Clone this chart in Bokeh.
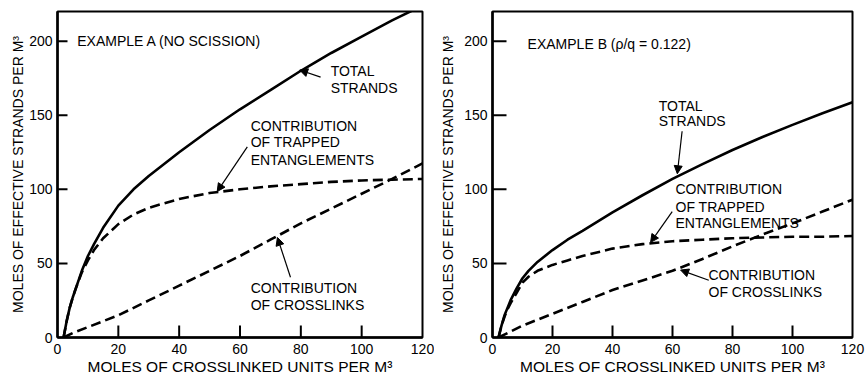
from bokeh.plotting import figure
from bokeh.models import FixedTicker, Arrow, NormalHead, Range1d, Label
from bokeh.layouts import row
from bokeh.embed import file_html
from bokeh.resources import INLINE

# ---------------- data ----------------
x_ticks = [0, 20, 40, 60, 80, 100, 120]
y_ticks = [0, 50, 100, 150, 200]
x_title = "MOLES OF CROSSLINKED UNITS PER M\u00b3"
y_title = "MOLES OF EFFECTIVE STRANDS PER M\u00b3"

# crosslinked units (x) for total / trapped curves
x_curve = [2, 3, 4, 5, 6, 8, 10, 12, 15, 20, 25, 30, 40, 50, 60, 70, 80, 90, 100, 110, 120]
# crosslinked units (x) for crosslink contribution
x_cross = [2, 5, 10, 20, 30, 40, 50, 60, 70, 80, 90, 100, 110, 120]

# Example A (no scission)
total_a = [0, 11, 20, 27, 33, 45, 55, 63, 74, 89, 100, 109, 125, 140, 154, 167, 180, 192, 203, 214, 224]
trapped_a = [0, 11, 20, 27, 33, 44, 52, 59, 67, 76.5, 83, 87.5, 93.5, 97.5, 100, 102, 103.5, 105, 106, 106.5, 107]
cross_a = [0, 3, 7, 15, 25, 35, 45, 55, 66, 77, 87, 97, 107, 117.5]

# Example B (rho/q = 0.122)
total_b = [0, 8, 15, 20, 25, 33, 40, 45, 51, 59, 66, 72, 84.5, 96, 107, 117, 126.5, 135.3, 143.5, 151.3, 158.7]
trapped_b = [0, 8, 14, 19, 23, 30, 37, 41, 45, 49, 52, 55, 60, 63, 65, 66, 67, 67.5, 68, 68, 68.5]
cross_b = [0, 3, 8, 16, 24, 32, 38.5, 45, 53, 61.5, 69.5, 77, 85, 93]

FONT = "Liberation Sans"
FIG_H = 382
BORDER_TOP = 11
BORDER_BOTTOM = 45
FRAME_H = FIG_H - BORDER_TOP - BORDER_BOTTOM
X_MAX = 120
Y_MAX = 220
TICK_COLOR = "black"


def make_fig(width, border_left, border_right, ytick_len, ylab_standoff):
    p = figure(width=width, height=FIG_H,
               x_range=Range1d(0, X_MAX), y_range=Range1d(0, Y_MAX),
               output_backend="svg", toolbar_location=None,
               min_border_left=border_left, min_border_right=border_right,
               min_border_top=BORDER_TOP, min_border_bottom=BORDER_BOTTOM)
    p.grid.visible = False
    p.background_fill_color = "white"
    p.border_fill_color = "white"
    p.outline_line_color = "black"
    p.outline_line_width = 2
    p.outline_line_alpha = 1

    p.xaxis.ticker = FixedTicker(ticks=x_ticks)
    p.yaxis.ticker = FixedTicker(ticks=y_ticks)
    for ax in (p.xaxis, p.yaxis):
        ax.axis_line_width = 2.5
        ax.axis_line_color = "black"
        ax.major_tick_in = 0
        ax.major_tick_out = 0
        ax.minor_tick_in = 0
        ax.minor_tick_out = 0
        ax.major_label_text_font = FONT
        ax.major_label_text_font_size = "14px"
        ax.major_label_text_color = "black"
        ax.axis_label_text_font = FONT
        ax.axis_label_text_font_style = "normal"
        ax.axis_label_text_color = "black"
    p.xaxis.major_label_standoff = 6
    p.yaxis.major_label_standoff = 5
    p.xaxis.axis_label = x_title
    p.yaxis.axis_label = y_title
    p.xaxis.axis_label_text_font_size = "15.5px"
    p.yaxis.axis_label_text_font_size = "14px"
    p.xaxis.axis_label_standoff = 1
    p.yaxis.axis_label_standoff = ylab_standoff

    # inward tick marks drawn from the tick lists (lengths converted from pixels)
    frame_w = width - border_left - border_right
    xt_len = 12 * Y_MAX / FRAME_H
    yt_len = ytick_len * X_MAX / frame_w
    inner_x = x_ticks[1:-1]
    inner_y = y_ticks[1:]
    p.segment(x0=inner_x, y0=[y_ticks[0]] * len(inner_x),
              x1=inner_x, y1=[y_ticks[0] + xt_len] * len(inner_x),
              line_color=TICK_COLOR, line_width=2)
    p.segment(x0=[x_ticks[0]] * len(inner_y), y0=inner_y,
              x1=[x_ticks[0] + yt_len] * len(inner_y), y1=inner_y,
              line_color=TICK_COLOR, line_width=2)
    return p


def add_curves(p, total, trapped, cross):
    p.line(x_curve, total, line_color="black", line_width=2.6)
    p.line(x_curve, trapped, line_color="black", line_width=2.6, line_dash="10 5")
    p.line(x_cross, cross, line_color="black", line_width=2.6, line_dash="10 5")


def add_text(p, x, ys, lines):
    for y, t in zip(ys, lines):
        p.add_layout(Label(x=x, y=y, text=t, text_font=FONT, text_font_size="14px",
                           text_color="black", text_baseline="middle", text_align="left"))


def add_arrow(p, xs, ys, xe, ye):
    p.add_layout(Arrow(end=NormalHead(size=8, fill_color="black", line_color="black", line_width=1),
                       x_start=xs, y_start=ys, x_end=xe, y_end=ye,
                       line_color="black", line_width=1.2))


# ---------------- panel A ----------------
pa = make_fig(434, 57, 12, 10, 0)
add_curves(pa, total_a, trapped_a, cross_a)
add_text(pa, 6.5, [200], ["EXAMPLE A (NO SCISSION)"])
add_text(pa, 89.8, [179.7, 168.2], ["TOTAL", "STRANDS"])
add_arrow(pa, 86.5, 175.7, 79.6, 180.5)
add_text(pa, 63.5, [142.6, 131.8, 119.6], ["CONTRIBUTION", "OF TRAPPED", "ENTANGLEMENTS"])
add_arrow(pa, 62.4, 128.6, 52.5, 98.5)
add_text(pa, 63.5, [33.1, 21.6], ["CONTRIBUTION", "OF CROSSLINKS"])
add_arrow(pa, 76.6, 40.7, 72.3, 67.5)

# ---------------- panel B ----------------
pb = make_fig(432, 58, 14, 14, 5)
add_curves(pb, total_b, trapped_b, cross_b)
add_text(pb, 11.7, [198], ["EXAMPLE B (\u03c1/q = 0.122)"])
add_text(pb, 55.4, [156.1, 146.0], ["TOTAL", "STRANDS"])
add_arrow(pb, 63.2, 139.2, 61.6, 110.5)
add_text(pb, 61, [100.1, 88.3, 77.1], ["CONTRIBUTION", "OF TRAPPED", "ENTANGLEMENTS"])
add_arrow(pb, 59.9, 85.0, 52.7, 64.2)
add_text(pb, 72, [42.0, 30.5], ["CONTRIBUTION", "OF CROSSLINKS"])
add_arrow(pb, 72.1, 38.6, 62.7, 45.5)

layout = row(pa, pb)
open("out.html", "w").write(file_html(layout, INLINE))
